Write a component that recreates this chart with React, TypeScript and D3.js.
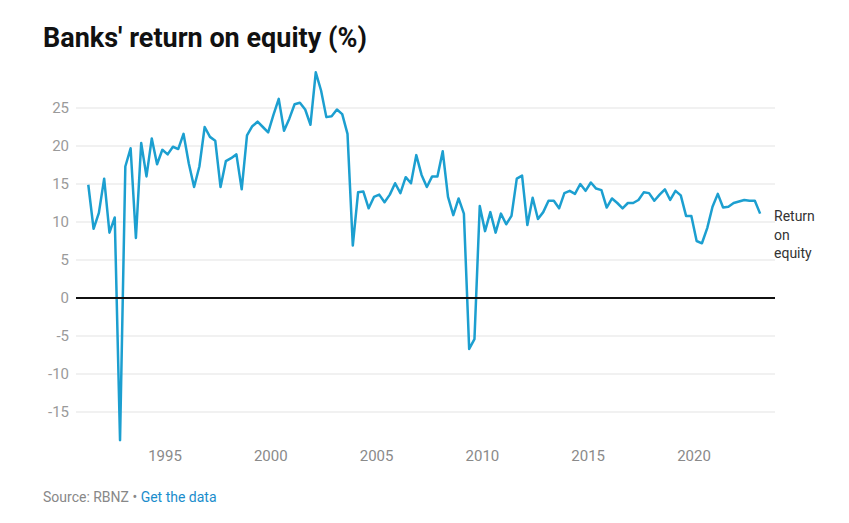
import React from "react";
import * as d3 from "d3";

const startYear = 1991;
const startQuarter = 2;

const roe: number[] = [
  14.9, 9.1, 11.2, 15.7, 8.6, 10.6, -18.7, 17.3, 19.7, 7.9,
  20.4, 16.0, 21.0, 17.6, 19.5, 18.9, 19.9, 19.6, 21.6, 17.7,
  14.6, 17.3, 22.5, 21.2, 20.7, 14.6, 18.0, 18.4, 18.9, 14.3,
  21.4, 22.6, 23.2, 22.5, 21.8, 24.1, 26.2, 22.0, 23.6, 25.5,
  25.7, 24.8, 22.8, 29.7, 27.3, 23.8, 23.9, 24.8, 24.2, 21.6,
  6.9, 13.9, 14.0, 11.8, 13.3, 13.6, 12.6, 13.6, 15.1, 13.8,
  15.9, 15.1, 18.8, 16.2, 14.6, 16.0, 16.0, 19.3, 13.3, 10.9,
  13.1, 11.1, -6.7, -5.4, 12.1, 8.8, 11.3, 8.6, 11.1, 9.7,
  10.8, 15.7, 16.1, 9.6, 13.2, 10.4, 11.3, 12.8, 12.8, 11.8,
  13.8, 14.1, 13.7, 15.0, 14.1, 15.2, 14.4, 14.2, 11.9, 13.1,
  12.5, 11.8, 12.5, 12.5, 12.9, 13.9, 13.8, 12.8, 13.6, 14.3,
  12.9, 14.1, 13.5, 10.8, 10.8, 7.5, 7.2, 9.2, 12.0, 13.7,
  11.9, 12.0, 12.5, 12.7, 12.9, 12.8, 12.8, 11.1,
];

const yTicks = [-15, -10, -5, 0, 5, 10, 15, 20, 25];
const xTicks = [1995, 2000, 2005, 2010, 2015, 2020];
const seriesLabel = ["Return", "on", "equity"];

const points = roe.map((v, i) => ({
  t: startYear + (startQuarter - 1) * 0.25 + 0.125 + i * 0.25,
  v,
}));

const W = 849;
const H = 523;
const FONT = "Roboto, 'Noto Sans', sans-serif";

export default function App() {
  const x = d3.scaleLinear().domain([1995, 2020]).range([165, 694]);
  const y = d3.scaleLinear().domain([0, 25]).range([298, 108]);
  const gridX0 = 76;
  const gridX1 = 775;

  const line = d3
    .line<{ t: number; v: number }>()
    .x((d) => x(d.t))
    .y((d) => y(d.v));

  return (
    <svg
      width={W}
      height={H}
      style={{ position: "absolute", left: 0, top: 0, background: "#fff" }}
      fontFamily={FONT}
    >
      <text x={43} y={47} fontSize={27} fontWeight={700} fill="#111">
        Banks' return on equity (%)
      </text>

      {yTicks.map((t) => (
        <g key={t}>
          {t !== 0 && (
            <line
              x1={gridX0}
              x2={gridX1}
              y1={y(t)}
              y2={y(t)}
              stroke="#e3e3e3"
              strokeWidth={1}
            />
          )}
          <text
            x={69}
            y={y(t)}
            dy="0.35em"
            textAnchor="end"
            fontSize={15}
            fill="#9a9a9a"
          >
            {t}
          </text>
        </g>
      ))}

      {xTicks.map((t) => (
        <text
          key={t}
          x={x(t)}
          y={461}
          textAnchor="middle"
          fontSize={15}
          fill="#8a8a8a"
        >
          {t}
        </text>
      ))}

      <path
        d={line(points) ?? ""}
        fill="none"
        stroke="#1c9fd0"
        strokeWidth={2.5}
        strokeLinejoin="round"
      />

      <line
        x1={gridX0}
        x2={gridX1}
        y1={y(0)}
        y2={y(0)}
        stroke="#111"
        strokeWidth={2}
      />

      {seriesLabel.map((s, i) => (
        <text
          key={s}
          x={774}
          y={221 + i * 18.5}
          fontSize={14}
          fill="#333"
        >
          {s}
        </text>
      ))}

      <text x={43} y={502} fontSize={14} fill="#888">
        Source: RBNZ •{" "}
        <tspan fill="#1a8dcc">Get the data</tspan>
      </text>
    </svg>
  );
}
